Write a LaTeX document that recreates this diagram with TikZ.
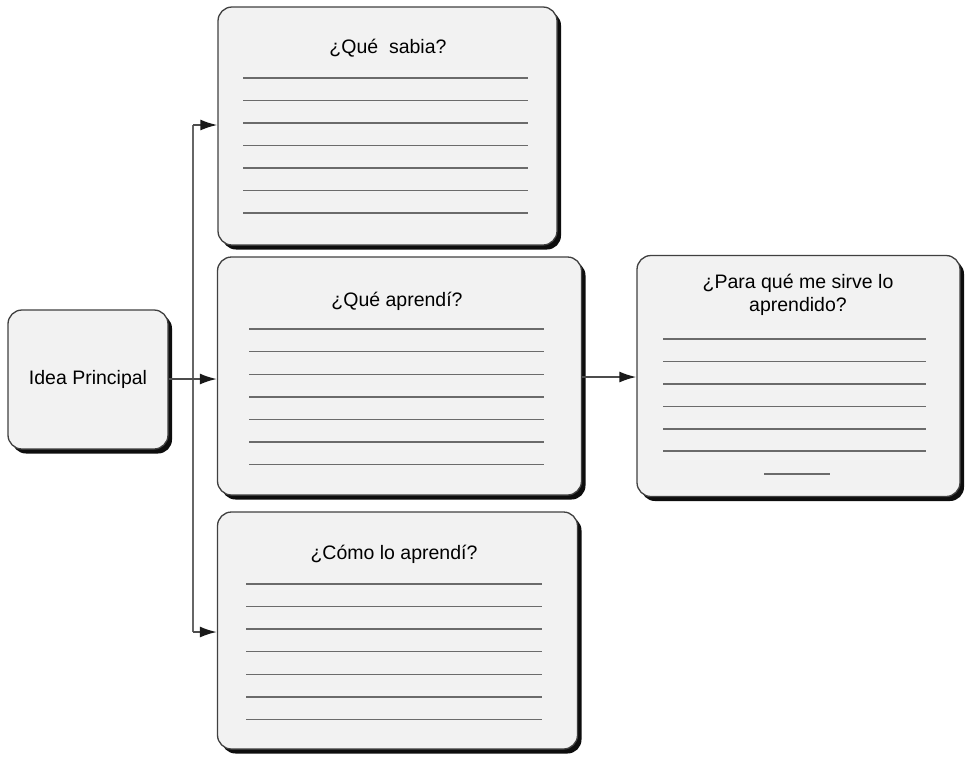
\documentclass[tikz,border=0pt]{standalone}
\usepackage{fontspec}
\setmainfont{Liberation Sans}
\usetikzlibrary{shadows,arrows.meta,calc}
\begin{document}
\begin{tikzpicture}[x=1pt,y=-1pt,
  box/.style={draw=black!75, line width=1.3pt, fill=black!5, rounded corners=14pt,
    drop shadow={shadow xshift=4pt, shadow yshift=-4.5pt, fill=black!95, opacity=1},
    inner sep=0pt},
  ttl/.style={font=\fontsize{19.5}{23.5}\selectfont, align=center, inner sep=0pt},
  rule/.style={draw=black!58, line width=1.6pt},
  conn/.style={draw=black!70, line width=1.8pt},
  arr/.style={conn, arrows={-Latex[length=17pt,width=11pt,color=black!90]}}]
\useasboundingbox (0,0) rectangle (966,756);

% boxes
\node[box, minimum width=160pt, minimum height=139pt] (idea) at (88,379.5) {};
\node[ttl] (ideat) at (idea.center) {Idea Principal};

\node[box, minimum width=339pt, minimum height=238pt] (sabia) at (387.5,126) {};
\node[ttl] (sabiat) at (388,48) {¿Qué\ \ sabia?};

\node[box, minimum width=364pt, minimum height=238pt] (apr) at (399.5,376) {};
\node[ttl] (aprt) at (397,301) {¿Qué aprendí?};

\node[box, minimum width=360pt, minimum height=237pt] (como) at (397.5,630.5) {};
\node[ttl] (comot) at (394,554) {¿Cómo lo aprendí?};

\node[box, minimum width=323pt, minimum height=241pt] (para) at (798.5,376) {};
\node[ttl] (parat) at (798,295) {¿Para qué me sirve lo\\aprendido?};

% writing lines
\foreach \y in {78,100.5,123,145.5,168,190.5,213}
  \draw[rule] (243,\y) -- (528,\y);
\foreach \y in {329,351.5,374.5,397,419.5,442,464.5}
  \draw[rule] (249,\y) -- (544,\y);
\foreach \y in {584,606.5,629,651.5,674.5,697,719.5}
  \draw[rule] (246,\y) -- (542,\y);
\foreach \y in {339,361.5,384,406.5,429,451}
  \draw[rule] (663,\y) -- (926,\y);
\draw[rule] (764,474) -- (830,474);

% connectors
\coordinate (jt) at (193,125);
\coordinate (jm) at (193,379);
\coordinate (jb) at (193,632);
\draw[conn, draw=black!60] (jt) -- (jb);
\draw[conn] (idea.east |- jm) -- (jm);
\draw[arr] (jt) -- (jt -| sabia.west);
\draw[arr] (jm) -- (jm -| apr.west);
\draw[arr] (jb) -- (jb -| como.west);
\coordinate (jr) at (apr.east |- 0,377);
\draw[arr] (jr) -- (jr -| para.west);
\end{tikzpicture}
\end{document}
